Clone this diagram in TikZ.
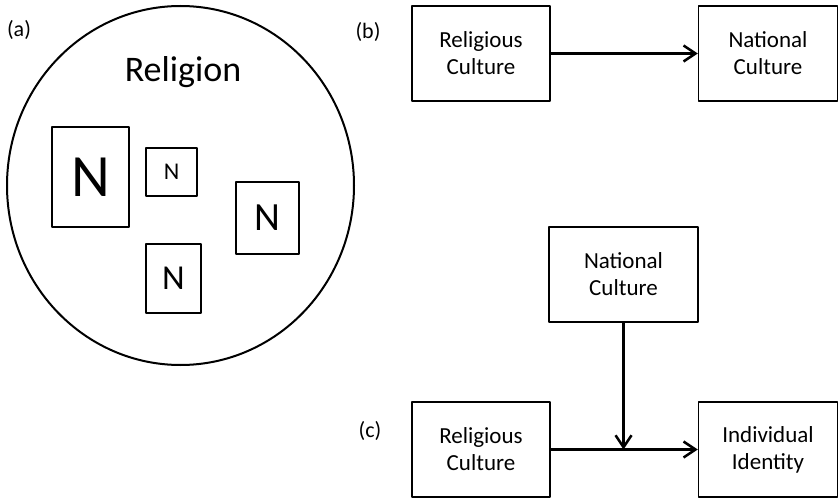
\documentclass[tikz,border=0pt]{standalone}
\usepackage{fontspec}
\setmainfont{Carlito}
\usetikzlibrary{arrows.meta}
\begin{document}
\begin{tikzpicture}[x=1pt,y=-1pt,line join=round,>={Straight Barb[length=12pt,width=16pt]},
  box/.style={draw,line width=1.5pt,inner sep=0pt,align=center,minimum height=95pt,font=\fontsize{23}{27}\selectfont},
  nbox/.style={draw,line width=1.5pt,inner sep=0pt},
  tag/.style={font=\fontsize{22}{24}\selectfont},
  link/.style={->,line width=2.5pt}]
\useasboundingbox (0,0) rectangle (839,500);
% (a) religion containing nations
\draw[line width=2pt] (180.5,185.5) ellipse [x radius=173.5, y radius=179.5];
\node[tag] (taga) at (19,30) {(a)};
\node[font=\fontsize{36}{40}\selectfont] (rel) at (183,72) {Religion};
\node[nbox,minimum width=77pt,minimum height=100pt,font=\fontsize{60}{60}\selectfont] (n1) at (90.5,177) {N};
\node[nbox,minimum width=51pt,minimum height=48pt,font=\fontsize{24}{24}\selectfont] (n2) at (171.5,172) {N};
\node[nbox,minimum width=63pt,minimum height=72pt,font=\fontsize{40}{40}\selectfont] (n3) at (267.5,218) {N};
\node[nbox,minimum width=55pt,minimum height=69pt,font=\fontsize{35}{35}\selectfont] (n4) at (173.5,278.5) {N};
% (b)
\node[tag] (tagb) at (368,32) {(b)};
\node[box,minimum width=138pt] (rcb) at (481,53.5) {Religious\\Culture};
\node[box,minimum width=139pt] (ncb) at (768,53.5) {National\\Culture};
\draw[link] (rcb) -- (ncb);
% (c)
\node[tag] (tagc) at (370,431) {(c)};
\node[box,minimum width=149pt] (ncc) at (623.5,274.5) {National\\Culture};
\node[box,minimum width=138pt] (rcc) at (481,449.5) {Religious\\Culture};
\node[box,minimum width=139pt] (idc) at (768,449.5) {Individual\\Identity};
\draw[link] (rcc) -- (idc);
\draw[link] (ncc) -- (ncc |- rcc);
\end{tikzpicture}
\end{document}
